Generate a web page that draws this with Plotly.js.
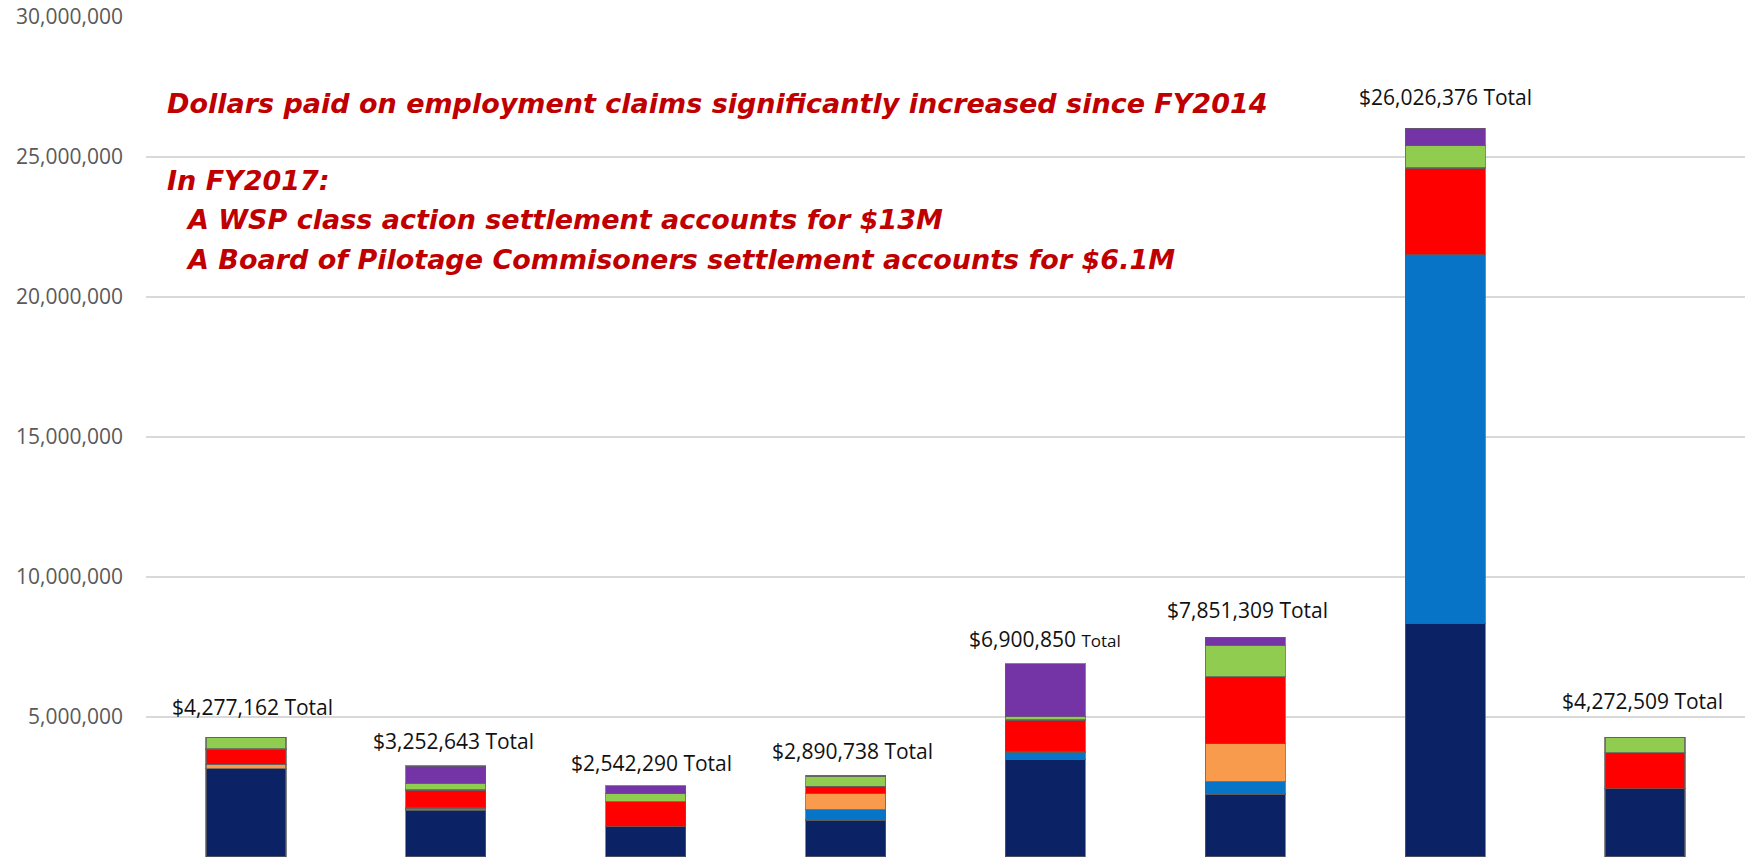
<!DOCTYPE html>
<html>
<head>
<meta charset="utf-8">
<script src="https://cdn.plot.ly/plotly-3.0.1.min.js"></script>
<style>
  html, body { margin: 0; padding: 0; background: #ffffff; }
  #plot-id { width: 1745px; height: 859px; }
</style>
</head>
<body>
<div id="plot-id"></div>
<script>
// Fiscal years (x axis labels are cut off in the picture)
var fiscalYears = ["FY2011", "FY2012", "FY2013", "FY2014", "FY2015", "FY2016", "FY2017", "FY2018"];

// Stacked pieces, bottom to top (dollars)
var navyValues   = [3160000, 1680000, 1080000, 1320000, 3480000, 2250000, 8340000, 2440000];
var blueValues   = [0, 0, 0, 370000, 270000, 440000, 13170000, 0];
var orangeValues = [150000, 70000, 0, 590000, 0, 1360000, 0, 0];
var redValues    = [550000, 640000, 900000, 250000, 1140000, 2390000, 3100000, 1280000];
var greenValues  = [417162, 240000, 280000, 360738, 120000, 1120000, 800000, 552509];
var purpleValues = [0, 622643, 282290, 0, 1890850, 291309, 616376, 0];

// Totals printed above each bar
var totalValues = [4277162, 3252643, 2542290, 2890738, 6900850, 7851309, 26026376, 4272509];

// y axis ticks
var tickValues = [0, 5000000, 10000000, 15000000, 20000000, 25000000, 30000000];

// Text notes
var headline = "Dollars paid on employment claims significantly increased since FY2014";
var noteLines = [
    "In FY2017:",
    "A WSP class action settlement accounts for $13M",
    "A Board of Pilotage Commisoners settlement accounts for $6.1M"
];


// ******************************************************************
//
// Traces
//
// ******************************************************************
function makeTrace(name, values, color) {
    return {
        x: fiscalYears,
        y: values,
        name: name,
        type: 'bar',
        marker: {
            color: color,
            line: {color: 'rgba(95,95,95,0.75)', width: 1.2}
        },
        hoverinfo: 'y+name'
    };
}

var data = [
    makeTrace("Group 1", navyValues, '#0B2365'),
    makeTrace("Group 2", blueValues, '#0874C8'),
    makeTrace("Group 3", orangeValues, '#F89B4C'),
    makeTrace("Group 4", redValues, '#FE0000'),
    makeTrace("Group 5", greenValues, '#90CC50'),
    makeTrace("Group 6", purpleValues, '#7434A6')
];


// ******************************************************************
//
// Annotations: totals over bars + red notes
//
// ******************************************************************
var labelXShift = [7, 8, 6, 7, 0, 2, 0, -3];
var labelYShift = [30, 25, 23, 25, 25, 27, 31, 36];

var annotations = [];

for (var i = 0; i < fiscalYears.length; i++) {
    var money = "$" + totalValues[i].toLocaleString('en-US');
    var word = (i === 4) ? '<span style="font-size:17px">Total</span>' : "Total";
    annotations.push({
        x: fiscalYears[i],
        y: totalValues[i],
        xref: 'x',
        yref: 'y',
        text: money + " " + word,
        showarrow: false,
        xanchor: 'center',
        yanchor: 'middle',
        xshift: labelXShift[i],
        yshift: labelYShift[i],
        font: {family: 'Open Sans', size: 21, color: '#111111'}
    });
}

var redFont = {family: 'DejaVu Sans', size: 27, color: '#C00000', style: 'italic', weight: 'bold'};

annotations.push({
    x: 0, y: 0.8967, xref: 'paper', yref: 'paper',
    xanchor: 'left', yanchor: 'middle', xshift: 19,
    text: headline, showarrow: false, font: redFont
});

// first note line sits flush with the headline, the other two are indented
var noteY = [0.8057, 0.7593, 0.7117];
var noteX = [19, 38, 38];
for (var j = 0; j < noteLines.length; j++) {
    annotations.push({
        x: 0, y: noteY[j], xref: 'paper', yref: 'paper',
        xanchor: 'left', yanchor: 'middle', xshift: noteX[j],
        text: noteLines[j], showarrow: false, font: redFont
    });
}


// ******************************************************************
//
// Layout
//
// ******************************************************************
var layout = {
    width: 1745,
    height: 859,
    barmode: 'stack',
    bargap: 0.6,
    showlegend: false,
    paper_bgcolor: '#ffffff',
    plot_bgcolor: '#ffffff',
    margin: {
        t: 17,  //top margin
        l: 146, //left margin
        r: 0,   //right margin
        b: 2    //bottom margin
    },
    xaxis: {
        type: 'category',
        showticklabels: false,
        showgrid: false,
        zeroline: false,
        showline: false
    },
    yaxis: {
        range: [0, 30000000],
        tickvals: tickValues,
        tickformat: ',',
        showgrid: true,
        gridcolor: '#D9D9D9',
        gridwidth: 1.5,
        zeroline: false,
        showline: false,
        ticks: '',
        ticklabelstandoff: 22,
        tickfont: {family: 'Open Sans', size: 21, color: '#595959'}
    },
    annotations: annotations
};

Plotly.newPlot("plot-id", data, layout, {displayModeBar: false, staticPlot: true});
</script>
</body>
</html>
